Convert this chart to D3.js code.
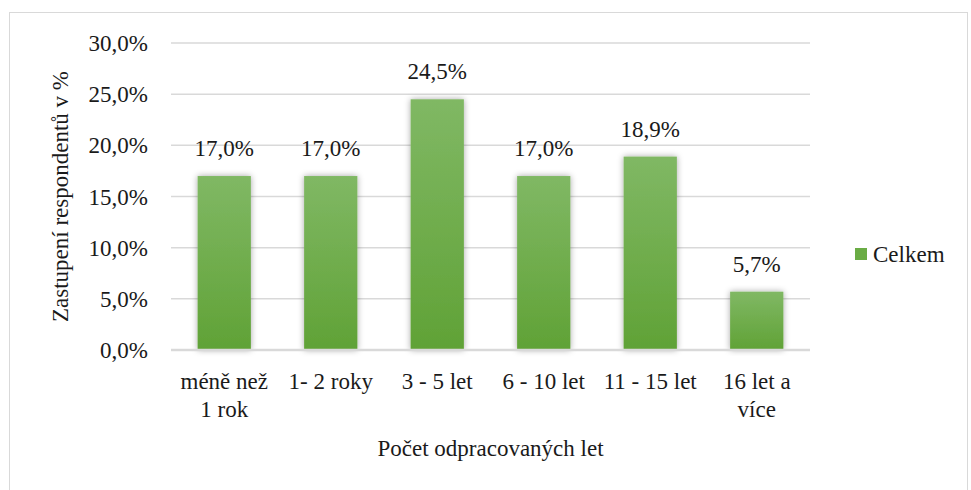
<html>
<body style="margin:0">
    <svg width="971" height="490"></svg>
    <script src="https://d3js.org/d3.v7.min.js"></script>
    <script>

    // data
    var categories = ["méně než\n1 rok", "1- 2 roky", "3 - 5 let", "6 - 10 let", "11 - 15 let", "16 let a\nvíce"];
    var values = [17.0, 17.0, 24.5, 17.0, 18.9, 5.7];
    var yTicks = [0, 5, 10, 15, 20, 25, 30];
    var seriesName = "Celkem";
    var yTitle = "Zastupení respondentů v %";
    var xTitle = "Počet odpracovaných let";

    var FONT = "'Liberation Serif', Tinos, 'Times New Roman', FreeSerif, serif";

    var svg = d3.select("svg");
    var fmt = function(v) { return v.toFixed(1).replace(".", ",") + "%"; };

    // every label goes through here so the font is set on the element itself
    function label(parent) {
        return parent.append("text")
            .attr("font-family", FONT)
            .attr("font-size", 23)
            .style("font-family", FONT)
            .style("font-size", "23px")
            .attr("fill", "#1a1a1a");
    }

    var plotL = 171, plotR = 810, plotT = 43, plotB = 350;

    var x = d3.scaleBand().domain(categories).range([plotL, plotR]).paddingInner(0.5).paddingOuter(0.25);
    var y = d3.scaleLinear().domain([0, 30]).range([plotB, plotT]);

    // outer frame
    svg.append("rect")
        .attr("x", 9.5).attr("y", 12.5)
        .attr("width", 958).attr("height", 490)
        .attr("fill", "none").attr("stroke", "#d9d9d9");

    var defs = svg.append("defs");
    var grad = defs.append("linearGradient").attr("id", "barGrad")
        .attr("x1", 0).attr("y1", 0).attr("x2", 0).attr("y2", 1);
    grad.append("stop").attr("offset", "0%").attr("stop-color", "#80b864");
    grad.append("stop").attr("offset", "100%").attr("stop-color", "#60a236");

    var shadow = defs.append("filter").attr("id", "shadow")
        .attr("x", "-30%").attr("y", "-10%").attr("width", "160%").attr("height", "120%");
    shadow.append("feDropShadow").attr("dx", 0).attr("dy", 0)
        .attr("stdDeviation", 3).attr("flood-color", "#000").attr("flood-opacity", 0.35);

    // gridlines
    svg.append("g")
        .selectAll("line")
        .data(yTicks.slice(1))
        .enter().append("line")
        .attr("x1", plotL).attr("x2", plotR)
        .attr("y1", function(d) { return y(d); })
        .attr("y2", function(d) { return y(d); })
        .attr("stroke", "#d9d9d9").attr("stroke-width", 1.5);

    // y axis labels (scale drives the positions, text drawn by hand for the font)
    var yg = svg.append("g");
    yTicks.forEach(function(t) {
        label(yg)
            .attr("x", plotL - 23)
            .attr("y", y(t))
            .attr("dy", "0.35em")
            .attr("text-anchor", "end")
            .text(fmt(t));
    });

    // bars
    svg.append("g")
        .selectAll("rect")
        .data(values)
        .enter().append("rect")
        .attr("x", function(d, i) { return x(categories[i]); })
        .attr("y", function(d) { return y(d); })
        .attr("width", x.bandwidth())
        .attr("height", function(d) { return y(0) - y(d); })
        .attr("fill", "url(#barGrad)")
        .attr("filter", "url(#shadow)");

    // baseline
    svg.append("line")
        .attr("x1", plotL).attr("x2", plotR)
        .attr("y1", y(0)).attr("y2", y(0))
        .attr("stroke", "#d9d9d9").attr("stroke-width", 2.5);

    // value labels
    var vg = svg.append("g");
    values.forEach(function(v, i) {
        label(vg)
            .attr("x", x(categories[i]) + x.bandwidth() / 2)
            .attr("y", y(v) - 20)
            .attr("text-anchor", "middle")
            .text(fmt(v));
    });

    // x category labels
    var xg = svg.append("g");
    categories.forEach(function(c) {
        var cx = x(c) + x.bandwidth() / 2;
        var t = label(xg).attr("x", cx).attr("y", 389).attr("text-anchor", "middle");
        c.split("\n").forEach(function(line, k) {
            t.append("tspan")
                .attr("x", cx)
                .attr("dy", k === 0 ? 0 : 28)
                .text(line);
        });
    });

    // axis titles
    label(svg)
        .attr("x", (plotL + plotR) / 2).attr("y", 456)
        .attr("text-anchor", "middle")
        .text(xTitle);

    label(svg)
        .attr("transform", "translate(68," + (plotT + plotB) / 2 + ") rotate(-90)")
        .attr("text-anchor", "middle")
        .text(yTitle);

    // legend
    var lg = svg.append("g").attr("transform", "translate(855,248)");
    lg.append("rect").attr("width", 12).attr("height", 12).attr("fill", "#6aac45");
    label(lg).attr("x", 18).attr("y", 14).text(seriesName);

    </script>
</body>
</html>
